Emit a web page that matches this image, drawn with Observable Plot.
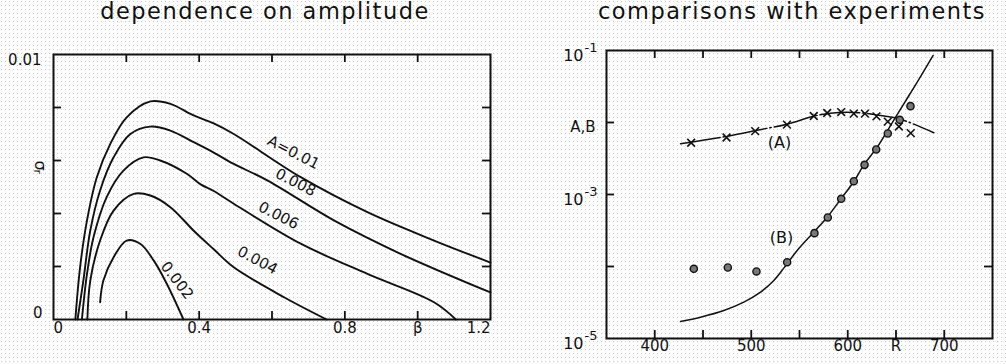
<!DOCTYPE html>
<html>
<head>
<meta charset="utf-8">
<script src="https://cdn.jsdelivr.net/npm/d3@7"></script>
<script src="https://cdn.jsdelivr.net/npm/@observablehq/plot@0.6"></script>
<style>
  html, body { margin: 0; padding: 0; }
  body {
    width: 1006px; height: 364px; overflow: hidden;
    background-color: #fff;
    background-image: url("data:image/svg+xml,%3Csvg xmlns='http://www.w3.org/2000/svg' width='4' height='4'%3E%3Crect x='1' y='1' width='1' height='1' fill='%23c8c8c8'/%3E%3C/svg%3E");
    font-family: "DejaVu Sans", sans-serif;
  }
  #wrap { position: relative; width: 1006px; height: 364px; }
  .title {
    position: absolute; top: 0; font-size: 22.5px; line-height: 1; letter-spacing: 1.5px;
    color: #111; white-space: nowrap; transform: translateX(-50%);
  }
  .panel { position: absolute; top: 28px; }
</style>
</head>
<body>
<div id="wrap">
  <div class="title" style="left:265px">dependence on amplitude</div>
  <div class="title" style="left:792px">comparisons with experiments</div>
  <div class="panel" id="left" style="left:0px"></div>
  <div class="panel" id="right" style="left:503px"></div>
</div>
<script>
// ---------- Left panel: growth rate sigma_r vs beta for several amplitudes A ----------
const leftTickX = [0.2, 0.4, 0.6, 0.8, 1.0];
const leftTickY = [0.002, 0.004, 0.006, 0.008];
const leftXLabelVals = [0.4, 0.8, 1.0];
const leftXLabelText = ["0.4", "0.8", "β"];

const beta_010 = [0.060, 0.073, 0.092, 0.119, 0.156, 0.201, 0.266, 0.321, 0.385, 0.44, 0.495, 0.679, 0.862, 1.045, 1.2];
const sig_010  = [0, 0.00197, 0.00374, 0.00537, 0.00663, 0.00763, 0.00823, 0.00814, 0.0077, 0.0074, 0.0070, 0.00537, 0.00405, 0.00298, 0.00215];
const beta_008 = [0.066, 0.082, 0.101, 0.128, 0.165, 0.211, 0.266, 0.321, 0.385, 0.44, 0.495, 0.587, 0.77, 0.953, 1.2];
const sig_008  = [0, 0.00147, 0.00336, 0.00487, 0.00612, 0.0070, 0.00728, 0.00713, 0.00669, 0.0063, 0.00587, 0.00525, 0.00374, 0.00248, 0.00102];
const beta_006 = [0.078, 0.092, 0.11, 0.146, 0.192, 0.247, 0.293, 0.366, 0.404, 0.44, 0.495, 0.679, 0.862, 1.045, 1.105];
const sig_006  = [0, 0.00172, 0.00311, 0.00462, 0.00562, 0.00612, 0.0060, 0.0055, 0.0051, 0.00485, 0.00437, 0.00286, 0.00172, 0.00065, 0];
const beta_004 = [0.093, 0.101, 0.128, 0.165, 0.22, 0.266, 0.321, 0.385, 0.44, 0.495, 0.633, 0.75];
const sig_004  = [0, 0.00147, 0.00298, 0.00411, 0.00474, 0.00468, 0.00424, 0.00335, 0.00265, 0.00197, 0.00084, 0];
const beta_002 = [0.128, 0.137, 0.165, 0.201, 0.238, 0.275, 0.311, 0.357];
const sig_002  = [0.00065, 0.00147, 0.00235, 0.00298, 0.00286, 0.00223, 0.00135, 0];

const curveNames  = ["0.01", "0.008", "0.006", "0.004", "0.002"];
const labelText   = ["A=0.01", "0.008", "0.006", "0.004", "0.002"];
const labelBeta   = [0.659, 0.665, 0.618, 0.56, 0.339];
const labelSigma  = [0.0063, 0.00517, 0.00392, 0.00223, 0.00147];
const labelAngle  = [27, 27, 27, 28, 52];

const curvesBeta = [beta_010, beta_008, beta_006, beta_004, beta_002];
const curvesSig  = [sig_010, sig_008, sig_006, sig_004, sig_002];
const leftCurves = curveNames.flatMap((name, k) =>
  curvesBeta[k].map((b, i) => ({A: name, beta: b, sigma: curvesSig[k][i]})));
const leftLabels = labelText.map((t, i) => ({t, beta: labelBeta[i], sigma: labelSigma[i], a: labelAngle[i]}));
const leftXLabels = leftXLabelVals.map((v, i) => ({v, t: leftXLabelText[i]}));

const INK = "#111";
const TICK = 8;

// inward ticks on all four sides of a frame
function frameTicks(xs, ys, innerW, innerH) {
  const o = {stroke: INK, strokeWidth: 1.8};
  return [
    Plot.tickX(xs, {x: d => d, insetTop: innerH - TICK, ...o}),
    Plot.tickX(xs, {x: d => d, insetBottom: innerH - TICK, ...o}),
    Plot.tickY(ys, {y: d => d, insetRight: innerW - TICK, ...o}),
    Plot.tickY(ys, {y: d => d, insetLeft: innerW - TICK, ...o})
  ];
}

const L = {width: 503, height: 336, mt: 26, mb: 45, ml: 53, mr: 13};
const left = Plot.plot({
  width: L.width, height: L.height,
  marginTop: L.mt, marginBottom: L.mb, marginLeft: L.ml, marginRight: L.mr,
  style: {background: "transparent", color: INK, fontFamily: "DejaVu Sans", overflow: "visible"},
  x: {domain: [0, 1.2], axis: null},
  y: {domain: [0, 0.01], axis: null},
  marks: [
    ...frameTicks(leftTickX, leftTickY, L.width - L.ml - L.mr, L.height - L.mt - L.mb),
    Plot.frame({stroke: INK, strokeWidth: 2}),
    Plot.line(leftCurves, {x: "beta", y: "sigma", z: "A", stroke: INK, strokeWidth: 1.9, curve: "catmull-rom"}),
    Plot.text(leftLabels, {x: "beta", y: "sigma", text: "t", rotate: "a", fontSize: 15, fill: INK}),
    // x tick labels
    Plot.text(leftXLabels, {x: "v", text: "t", frameAnchor: "bottom", dy: 13, fontSize: 15, fill: INK}),
    Plot.text([0], {x: d => d, text: ["0"], frameAnchor: "bottom", textAnchor: "start", dy: 13, fontSize: 15, fill: INK}),
    Plot.text([1.2], {x: d => d, text: ["1.2"], frameAnchor: "bottom", textAnchor: "end", dy: 13, fontSize: 15, fill: INK}),
    // y tick labels
    Plot.text([0.01], {y: d => d, text: ["0.01"], frameAnchor: "left", textAnchor: "end", dx: -12, dy: 6, fontSize: 15, fill: INK}),
    Plot.text([0], {y: d => d, text: ["0"], frameAnchor: "left", textAnchor: "end", dx: -11, dy: -6, fontSize: 15, fill: INK}),
    Plot.text([0.006], {y: d => d, text: ["σ"], frameAnchor: "left", dx: -13, rotate: 90, fontSize: 16, fill: INK}),
    Plot.text([0.006], {y: d => d, text: ["r"], frameAnchor: "left", dx: -16, dy: 9, rotate: 90, fontSize: 11, fill: INK})
  ]
});
document.getElementById("left").appendChild(left);

// ---------- Right panel: A and B vs Reynolds number R (log scale) ----------
const rightTickX = [400, 450, 500, 550, 600, 650, 700];
const rightTickY = [0.01, 0.001, 0.0001];
const rightXLabelVals = [400, 500, 600, 650, 700];
const rightXLabelText = ["400", "500", "600", "R", "700"];
const rightYPowVals = [0.1, 0.001, 0.00001];
const rightYPowExp = ["-1", "-3", "-5"];
const rightYNameVal = [0.01];
const rightYNameText = ["A,B"];

// experimental points (A): crosses
const expA_R   = [437.7, 474.4, 504.1, 537.0, 564.8, 578.7, 593.2, 606.3, 617.8, 629.8, 641.5, 653.0, 665.3];
const expA_val = [0.005224, 0.006194, 0.007586, 0.009333, 0.0123, 0.01355, 0.01396, 0.01327, 0.01327, 0.01216, 0.01028, 0.00879, 0.00711];
// experimental points (B): circles
const expB_R   = [440.5, 475.7, 505.4, 537.2, 565.5, 579.3, 593.2, 606.3, 617.4, 629.5, 641.5, 653.9, 665.0];
const expB_val = [9.29e-5, 9.68e-5, 8.53e-5, 1.148e-4, 2.904e-4, 4.80e-4, 8.71e-4, 1.531e-3, 2.582e-3, 4.217e-3, 7.03e-3, 1.089e-2, 1.687e-2];
// theory curve A (dash-dot)
const curveA_R   = [426.7, 471.6, 506.2, 537.2, 564.8, 582.1, 599.4, 616.7, 634.0, 651.2, 668.5, 689.2];
const curveA_val = [5.058e-3, 6.324e-3, 7.816e-3, 9.484e-3, 1.225e-2, 1.349e-2, 1.390e-2, 1.349e-2, 1.250e-2, 1.148e-2, 9.484e-3, 7.194e-3];
// theory curve B (solid)
const curveB_R   = [426.7, 447.4, 471.6, 492.3, 509.6, 523.4, 533.7, 547.6, 564.8, 578.7, 592.5, 606.3, 616.7, 630.5, 644.3, 658.1, 672.0, 688.5];
const curveB_val = [1.722e-5, 1.977e-5, 2.449e-5, 3.199e-5, 4.406e-5, 6.397e-5, 9.484e-5, 1.667e-4, 2.999e-4, 4.842e-4, 8.531e-4, 1.517e-3, 2.582e-3, 4.539e-3, 9.078e-3, 1.816e-2, 3.631e-2, 8.531e-2];

const seriesLabels = ["(A)", "(B)"];
const seriesLabelR = [529.3, 531.3];
const seriesLabelVal = [5.27e-3, 2.53e-4];

const zipRV = (R, V) => R.map((r, i) => ({R: r, v: V[i]}));
const rightXLabels = rightXLabelVals.map((v, i) => ({v, t: rightXLabelText[i]}));
const rightYPow = rightYPowVals.map((v, i) => ({v, e: rightYPowExp[i]}));
const rightYName = rightYNameVal.map((v, i) => ({v, t: rightYNameText[i]}));
const serLabels = seriesLabels.map((t, i) => ({t, R: seriesLabelR[i], v: seriesLabelVal[i]}));

const Rm = {width: 503, height: 336, mt: 22, mb: 26, ml: 103, mr: 14};
const right = Plot.plot({
  width: Rm.width, height: Rm.height,
  marginTop: Rm.mt, marginBottom: Rm.mb, marginLeft: Rm.ml, marginRight: Rm.mr,
  style: {background: "transparent", color: INK, fontFamily: "DejaVu Sans", overflow: "visible"},
  x: {domain: [350, 750], axis: null},
  y: {type: "log", domain: [1e-5, 1e-1], axis: null},
  marks: [
    ...frameTicks(rightTickX, rightTickY, Rm.width - Rm.ml - Rm.mr, Rm.height - Rm.mt - Rm.mb),
    Plot.frame({stroke: INK, strokeWidth: 2}),
    Plot.line(zipRV(curveA_R, curveA_val), {x: "R", y: "v", stroke: INK, strokeWidth: 1.5, strokeDasharray: "40,3,1.5,3", curve: "catmull-rom"}),
    Plot.line(zipRV(curveB_R, curveB_val), {x: "R", y: "v", stroke: INK, strokeWidth: 1.5, curve: "catmull-rom"}),
    Plot.dot(zipRV(expA_R, expA_val), {x: "R", y: "v", symbol: "times", r: 3.6, stroke: INK, strokeWidth: 1.6}),
    Plot.dot(zipRV(expB_R, expB_val), {x: "R", y: "v", symbol: "circle", r: 3.6, fill: "#777", stroke: INK, strokeWidth: 1.4}),
    Plot.text(serLabels, {x: "R", y: "v", text: "t", fontSize: 16, fill: INK}),
    Plot.text(rightXLabels, {x: "v", text: "t", frameAnchor: "bottom", dy: 12, fontSize: 15, fill: INK}),
    // 10^n labels: base and raised exponent
    Plot.text(rightYPow, {y: "v", text: () => "10", frameAnchor: "left", textAnchor: "end", dx: -23, dy: 5, fontSize: 16, fill: INK}),
    Plot.text(rightYPow, {y: "v", text: "e", frameAnchor: "left", textAnchor: "start", dx: -22, dy: -3, fontSize: 13, fill: INK}),
    Plot.text(rightYName, {y: "v", text: "t", frameAnchor: "left", textAnchor: "end", dx: -11, dy: 5, fontSize: 15, fill: INK})
  ]
});
document.getElementById("right").appendChild(right);
</script>
</body>
</html>
